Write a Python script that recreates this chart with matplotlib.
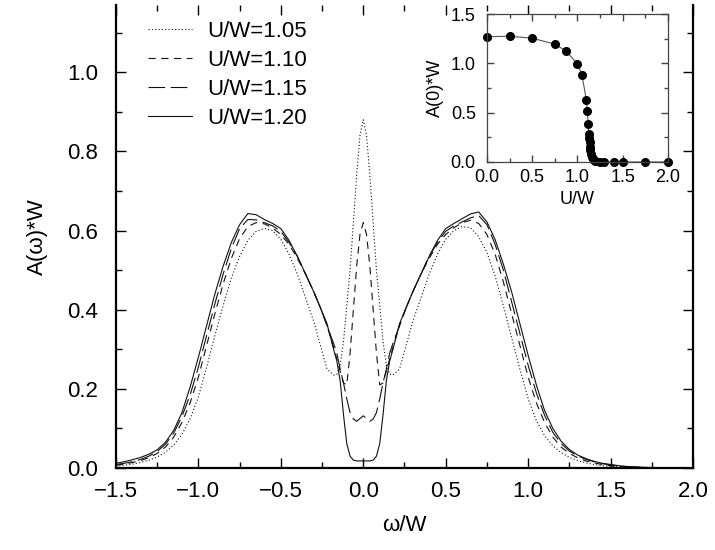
import matplotlib
matplotlib.use("Agg")
import matplotlib.pyplot as plt
from matplotlib.ticker import MultipleLocator, FuncFormatter

plt.rcParams["font.family"] = ["Liberation Sans", "DejaVu Sans"]

# ---------------------------------------------------------------------------
# Data: spectral function A(w)*W for four values of U/W
# ---------------------------------------------------------------------------
omega = [
    -1.5, -1.45, -1.4, -1.35, -1.3, -1.25, -1.2, -1.15, -1.1, -1.05,
    -1.0, -0.95, -0.9, -0.85, -0.8, -0.75, -0.7, -0.65, -0.6, -0.55,
    -0.5, -0.45, -0.4, -0.35, -0.3, -0.26, -0.22, -0.18, -0.16, -0.14,
    -0.12, -0.1, -0.08, -0.06, -0.04, -0.02, 0.0, 0.02, 0.04, 0.06,
    0.08, 0.1, 0.12, 0.14, 0.16, 0.18, 0.22, 0.26, 0.3, 0.35,
    0.4, 0.45, 0.5, 0.55, 0.6, 0.65, 0.7, 0.75, 0.8, 0.85,
    0.9, 0.95, 1.0, 1.05, 1.1, 1.15, 1.2, 1.25, 1.3, 1.35,
    1.4, 1.45, 1.5, 1.55, 1.6, 1.65, 1.7, 1.75, 1.8, 1.85, 1.9,
]

a_105 = [
    0.005, 0.007, 0.01, 0.014, 0.02, 0.028, 0.04, 0.058, 0.085, 0.125,
    0.18, 0.255, 0.335, 0.41, 0.48, 0.535, 0.575, 0.598, 0.605, 0.6,
    0.578, 0.54, 0.49, 0.43, 0.37, 0.31, 0.25, 0.235, 0.237, 0.26,
    0.32, 0.41, 0.5, 0.62, 0.74, 0.84, 0.88, 0.84, 0.74, 0.62,
    0.5, 0.41, 0.32, 0.26, 0.237, 0.235, 0.25, 0.31, 0.37, 0.43,
    0.49, 0.54, 0.578, 0.6, 0.61, 0.607, 0.585, 0.545, 0.485, 0.41,
    0.33, 0.25, 0.175, 0.12, 0.082, 0.056, 0.039, 0.027, 0.019, 0.013,
    0.009, 0.006, 0.004, 0.003, 0.002, 0.001, 0.0008, 0.0005, 0.0003, 0.0001, 0.0,
]

a_110 = [
    0.007, 0.01, 0.014, 0.019, 0.026, 0.037, 0.053, 0.078, 0.115, 0.165,
    0.23, 0.31, 0.39, 0.465, 0.53, 0.58, 0.61, 0.62, 0.617, 0.607,
    0.59, 0.565, 0.53, 0.49, 0.445, 0.405, 0.36, 0.305, 0.275, 0.245,
    0.215, 0.21, 0.29, 0.4, 0.51, 0.59, 0.62, 0.59, 0.51, 0.4,
    0.29, 0.21, 0.215, 0.245, 0.275, 0.305, 0.36, 0.405, 0.445, 0.49,
    0.53, 0.565, 0.59, 0.607, 0.62, 0.626, 0.618, 0.59, 0.54, 0.47,
    0.39, 0.31, 0.23, 0.165, 0.115, 0.078, 0.053, 0.037, 0.026, 0.018,
    0.013, 0.009, 0.006, 0.004, 0.003, 0.002, 0.0012, 0.0007, 0.0004, 0.0002, 0.0,
]

a_115 = [
    0.009, 0.012, 0.016, 0.022, 0.03, 0.042, 0.06, 0.088, 0.13, 0.185,
    0.255, 0.335, 0.415, 0.49, 0.555, 0.605, 0.628, 0.627, 0.62, 0.612,
    0.598, 0.57, 0.535, 0.49, 0.445, 0.405, 0.36, 0.315, 0.29, 0.25,
    0.215, 0.175, 0.14, 0.124, 0.118, 0.125, 0.132, 0.125, 0.118, 0.124,
    0.14, 0.175, 0.215, 0.25, 0.29, 0.315, 0.36, 0.405, 0.445, 0.49,
    0.535, 0.57, 0.598, 0.612, 0.622, 0.632, 0.638, 0.615, 0.565, 0.5,
    0.42, 0.34, 0.26, 0.19, 0.133, 0.09, 0.062, 0.043, 0.031, 0.022,
    0.016, 0.011, 0.008, 0.005, 0.0035, 0.0025, 0.0015, 0.001, 0.0005, 0.0002, 0.0,
]

a_120 = [
    0.012, 0.016, 0.021, 0.027, 0.035, 0.046, 0.065, 0.095, 0.14, 0.205,
    0.28, 0.36, 0.44, 0.51, 0.57, 0.615, 0.643, 0.64, 0.628, 0.618,
    0.605, 0.575, 0.535, 0.49, 0.445, 0.405, 0.365, 0.3, 0.27, 0.22,
    0.135, 0.062, 0.03, 0.02, 0.018, 0.018, 0.018, 0.018, 0.018, 0.02,
    0.03, 0.062, 0.135, 0.22, 0.27, 0.3, 0.365, 0.405, 0.445, 0.49,
    0.535, 0.575, 0.605, 0.618, 0.63, 0.642, 0.647, 0.622, 0.577, 0.515,
    0.445, 0.365, 0.285, 0.21, 0.145, 0.1, 0.068, 0.047, 0.033, 0.024,
    0.017, 0.012, 0.009, 0.006, 0.004, 0.003, 0.002, 0.0012, 0.0007, 0.0003, 0.0,
]

labels = ["U/W=1.05", "U/W=1.10", "U/W=1.15", "U/W=1.20"]

# Inset: A(0)*W versus U/W
inset_u = [
    0.0, 0.25, 0.5, 0.75, 0.875, 1.0, 1.05, 1.1, 1.11, 1.12,
    1.125, 1.13, 1.135, 1.14, 1.145, 1.15, 1.16, 1.17, 1.18, 1.2,
    1.25, 1.3, 1.4, 1.5, 1.75, 2.0,
]
inset_a = [
    1.27, 1.275, 1.255, 1.195, 1.125, 0.995, 0.885, 0.625, 0.52, 0.385,
    0.28, 0.24, 0.2, 0.15, 0.12, 0.085, 0.055, 0.035, 0.02, 0.008,
    0.002, 0.0, 0.0, 0.0, 0.0, 0.0,
]

styles = [
    (0, (1.0, 2.0)),
    (0, (6.5, 5.0)),
    (0, (15.0, 5.0)),
    "-",
]

one_decimal = FuncFormatter(lambda v, pos: f"{v:.1f}".replace("-", "\u2212"))


def style_axis(ax, size, pad_x, pad_y, major_len, minor_len):
    ax.tick_params(which="both", direction="in", top=True, right=True,
                   labelsize=size, width=1.0)
    ax.tick_params(which="major", length=major_len)
    ax.tick_params(which="minor", length=minor_len)
    ax.tick_params(axis="x", which="major", pad=pad_x)
    ax.tick_params(axis="y", which="major", pad=pad_y)


fig = plt.figure(figsize=(7.15, 5.5), dpi=100)

# ---------------------------------------------------------------------------
# Main panel
# ---------------------------------------------------------------------------
ax = fig.add_axes([0.1622, 0.149, 0.807, 0.842])
for series, ls, lab in zip([a_105, a_110, a_115, a_120], styles, labels):
    ax.plot(omega, series, color="#111111", linewidth=0.8, linestyle=ls,
            label=lab)

ax.set_xlim(-1.5, 2.0)
ax.set_ylim(0.0, 1.17)
ax.xaxis.set_major_locator(MultipleLocator(0.5))
ax.xaxis.set_minor_locator(MultipleLocator(0.25))
ax.yaxis.set_minor_locator(MultipleLocator(0.1))
ax.set_yticks([0.0, 0.2, 0.4, 0.6, 0.8, 1.0])
ax.xaxis.set_major_formatter(one_decimal)
ax.yaxis.set_major_formatter(one_decimal)
style_axis(ax, 16, 9, 13, 7, 4)
ax.spines["top"].set_visible(False)
for side in ["left", "right", "bottom"]:
    ax.spines[side].set_linewidth(1.6)
ax.set_xlabel("\u03c9/W", fontsize=16, labelpad=10)
ax.set_ylabel("A(\u03c9)*W", fontsize=16, labelpad=14)

ax.legend(loc="upper left", bbox_to_anchor=(0.055, 0.966),
          frameon=False, fontsize=16, handlelength=2.0,
          handletextpad=0.7, labelspacing=0.36, borderpad=0,
          borderaxespad=0)

# ---------------------------------------------------------------------------
# Inset
# ---------------------------------------------------------------------------
ins = fig.add_axes([0.681, 0.7055, 0.253, 0.269])
ins.plot(inset_u, inset_a, color="#555555", linewidth=0.8, marker="o",
         markersize=5.5, markerfacecolor="black", markeredgecolor="black",
         clip_on=False)
ins.set_xlim(0.0, 2.0)
ins.set_ylim(0.0, 1.5)
ins.xaxis.set_major_locator(MultipleLocator(0.5))
ins.xaxis.set_minor_locator(MultipleLocator(0.25))
ins.yaxis.set_major_locator(MultipleLocator(0.5))
ins.yaxis.set_minor_locator(MultipleLocator(0.25))
ins.xaxis.set_major_formatter(one_decimal)
ins.yaxis.set_major_formatter(one_decimal)
style_axis(ins, 13, 5, 8, 5, 3)
ins.tick_params(which="both", color="#444444")
for side in ins.spines.values():
    side.set_linewidth(0.9)
    side.set_color("#444444")
ins.set_xlabel("U/W", fontsize=13, labelpad=4)
ins.set_ylabel("A(0)*W", fontsize=13, labelpad=5)

fig.savefig("out.png", dpi=100)
